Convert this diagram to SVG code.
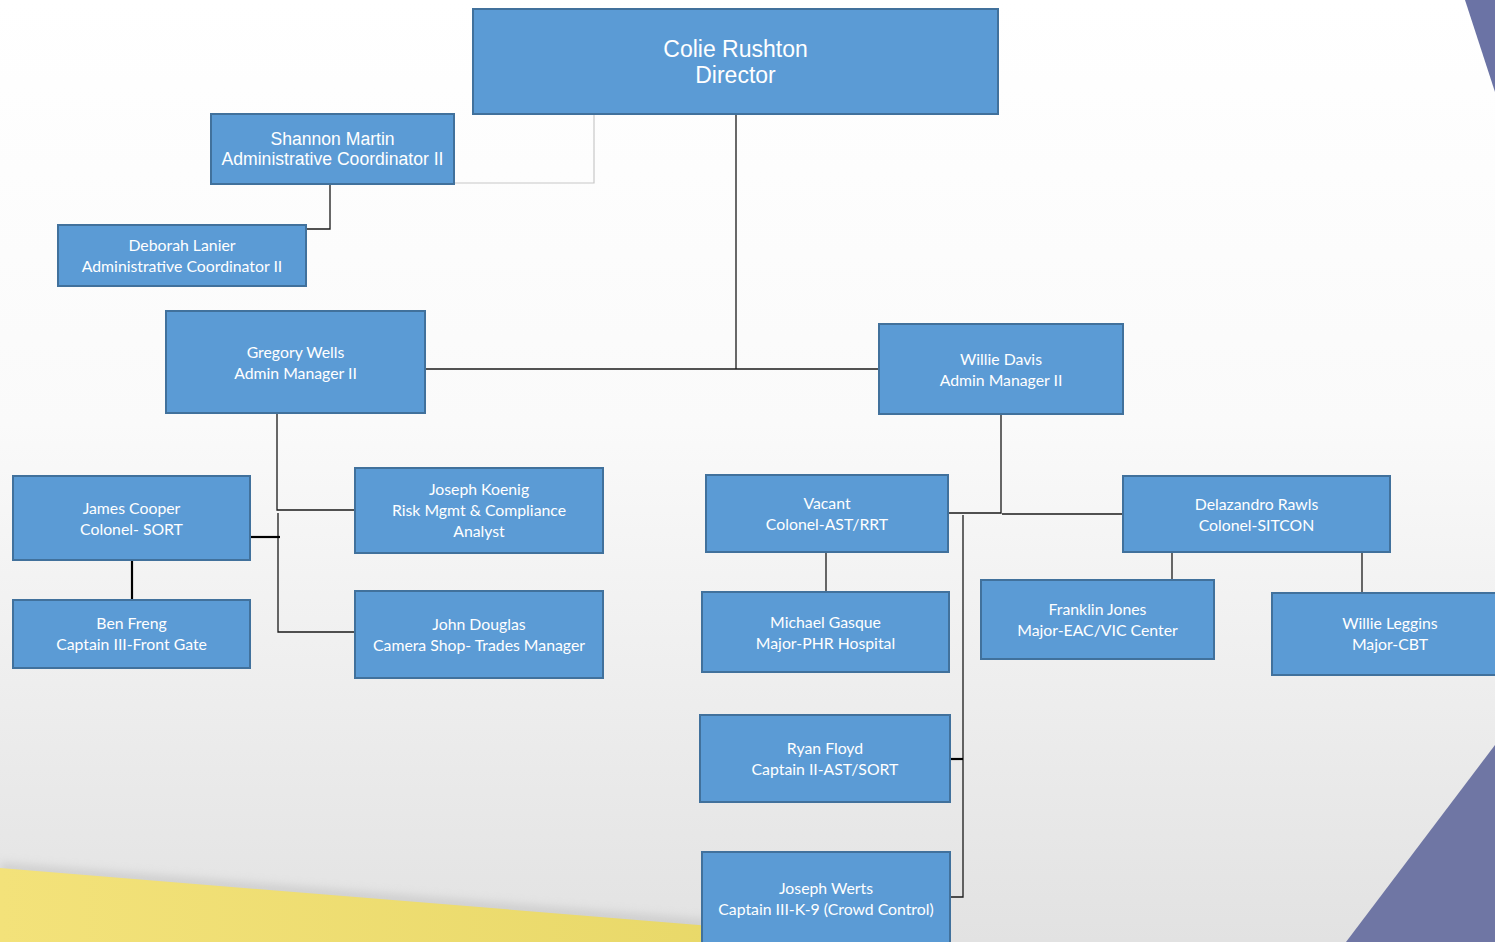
<svg xmlns="http://www.w3.org/2000/svg" width="1495" height="942" viewBox="0 0 1495 942">
<defs>
<linearGradient id="bg" x1="0" y1="0" x2="0" y2="1">
<stop offset="0" stop-color="#ffffff"/>
<stop offset="0.45" stop-color="#fafafa"/>
<stop offset="1" stop-color="#e2e2e2"/>
</linearGradient>
<linearGradient id="yel" x1="0" y1="0" x2="1" y2="0">
<stop offset="0" stop-color="#f3e27a"/>
<stop offset="1" stop-color="#e8d868"/>
</linearGradient>
<filter id="sh" x="-0.1" y="-0.3" width="1.2" height="1.6">
<feGaussianBlur stdDeviation="4"/>
</filter>
<style>
.box{fill:#5b9bd5;stroke:#41719c;stroke-width:2}
.t1{font-family:"Liberation Sans",Arial,sans-serif;fill:#ffffff;text-anchor:middle}
.t2{font-family:Lato,"Open Sans",sans-serif;font-size:15.8px;fill:#ffffff;text-anchor:middle}
.c{fill:none;stroke:#1a1a1a;stroke-width:1.3}
.ct{fill:none;stroke:#000000;stroke-width:2.2}
.cg{fill:none;stroke:#c8c8c8;stroke-width:1.2}
</style>
</defs>
<g id="background">
<rect x="0" y="0" width="1495" height="942" fill="url(#bg)"/>
<polygon points="0,862 720,920 720,942 0,942" fill="#bdbdbd" opacity="0.5" filter="url(#sh)"/>
<polygon points="0,868 760,930 760,942 0,942" fill="url(#yel)"/>
<polygon points="1465,0 1495,0 1495,92" fill="#6b73a5"/>
<polygon points="1495,745 1495,942 1346,942" fill="#6f76a4"/>
</g>
<g id="connectors">
<path class="cg" d="M594,114 V183 H454"/>
<path class="c" d="M736,114 V369"/>
<path class="c" d="M425,369 H879"/>
<path class="c" d="M354,183 H330 V229 H306"/>
<path class="c" d="M277,413 V510 H357"/>
<path class="c" d="M278,513 V632 H354"/>
<path class="ct" d="M250,537 H280"/>
<path class="ct" d="M132,560 V600"/>
<path class="c" d="M1001,414 V513 H948"/>
<path class="c" d="M1002,514 H1123"/>
<path class="c" d="M963,515 V897 H950"/>
<path class="ct" d="M950,759 H963"/>
<path class="c" d="M826,552 V592"/>
<path class="c" d="M1172,552 V580"/>
<path class="c" d="M1362,552 V593"/>
</g>
<g id="n-rushton"><rect class="box" x="473" y="9" width="525" height="105"/>
<text class="t1" font-size="23" x="735.5" y="57">Colie Rushton</text>
<text class="t1" font-size="23" x="735.5" y="83">Director</text></g>
<g id="n-martin"><rect class="box" x="211" y="114" width="243" height="70"/>
<text class="t1" font-size="17.6" x="332.5" y="145">Shannon Martin</text>
<text class="t1" font-size="17.6" x="332.5" y="165">Administrative Coordinator II</text></g>
<g id="n-lanier"><rect class="box" x="58" y="225" width="248" height="61"/>
<text class="t2" x="182" y="251">Deborah Lanier</text>
<text class="t2" x="182" y="272">Administrative Coordinator II</text></g>
<g id="n-wells"><rect class="box" x="166" y="311" width="259" height="102"/>
<text class="t2" x="295.5" y="358">Gregory Wells</text>
<text class="t2" x="295.5" y="379">Admin Manager II</text></g>
<g id="n-davis"><rect class="box" x="879" y="324" width="244" height="90"/>
<text class="t2" x="1001" y="365">Willie Davis</text>
<text class="t2" x="1001" y="386">Admin Manager II</text></g>
<g id="n-cooper"><rect class="box" x="13" y="476" width="237" height="84"/>
<text class="t2" x="131.5" y="514">James Cooper</text>
<text class="t2" x="131.5" y="535">Colonel- SORT</text></g>
<g id="n-freng"><rect class="box" x="13" y="600" width="237" height="68"/>
<text class="t2" x="131.5" y="629">Ben Freng</text>
<text class="t2" x="131.5" y="650">Captain III-Front Gate</text></g>
<g id="n-koenig"><rect class="box" x="355" y="468" width="248" height="85"/>
<text class="t2" x="479" y="495">Joseph Koenig</text>
<text class="t2" x="479" y="516">Risk Mgmt &amp; Compliance</text>
<text class="t2" x="479" y="537">Analyst</text></g>
<g id="n-douglas"><rect class="box" x="355" y="591" width="248" height="87"/>
<text class="t2" x="479" y="630">John Douglas</text>
<text class="t2" x="479" y="651">Camera Shop- Trades Manager</text></g>
<g id="n-vacant"><rect class="box" x="706" y="475" width="242" height="77"/>
<text class="t2" x="827" y="509">Vacant</text>
<text class="t2" x="827" y="530">Colonel-AST/RRT</text></g>
<g id="n-gasque"><rect class="box" x="702" y="592" width="247" height="80"/>
<text class="t2" x="825.5" y="628">Michael Gasque</text>
<text class="t2" x="825.5" y="649">Major-PHR Hospital</text></g>
<g id="n-floyd"><rect class="box" x="700" y="715" width="250" height="87"/>
<text class="t2" x="825" y="754">Ryan Floyd</text>
<text class="t2" x="825" y="775">Captain II-AST/SORT</text></g>
<g id="n-werts"><rect class="box" x="702" y="852" width="248" height="100"/>
<text class="t2" x="826" y="894">Joseph Werts</text>
<text class="t2" x="826" y="915">Captain III-K-9 (Crowd Control)</text></g>
<g id="n-rawls"><rect class="box" x="1123" y="476" width="267" height="76"/>
<text class="t2" x="1256.5" y="510">Delazandro Rawls</text>
<text class="t2" x="1256.5" y="531">Colonel-SITCON</text></g>
<g id="n-jones"><rect class="box" x="981" y="580" width="233" height="79"/>
<text class="t2" x="1097.5" y="615">Franklin Jones</text>
<text class="t2" x="1097.5" y="636">Major-EAC/VIC Center</text></g>
<g id="n-leggins"><rect class="box" x="1272" y="593" width="235" height="82"/>
<text class="t2" x="1390" y="629">Willie Leggins</text>
<text class="t2" x="1390" y="650">Major-CBT</text></g>
</svg>
